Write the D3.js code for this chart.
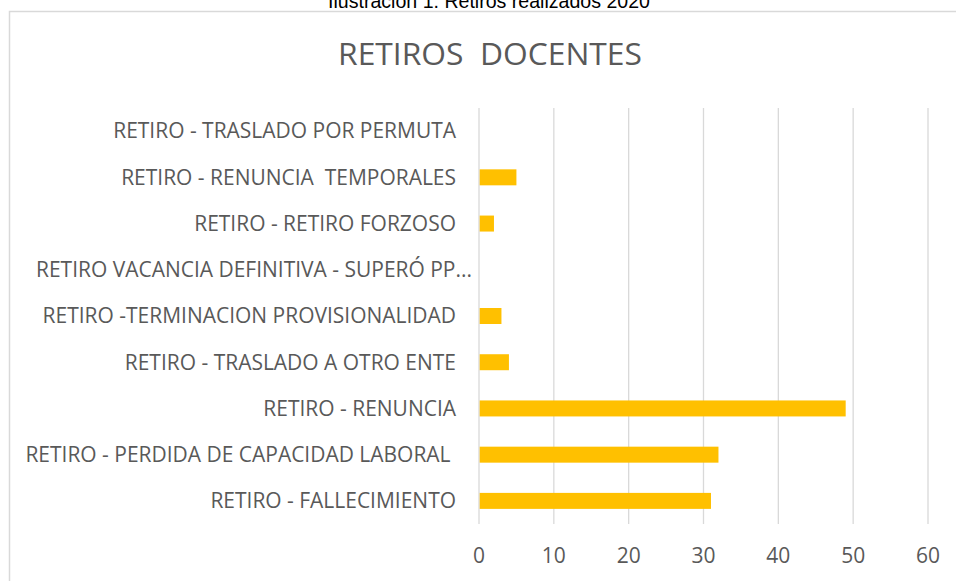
<!DOCTYPE html>
<html>
<head>
<meta charset="utf-8">
<script src="https://cdn.jsdelivr.net/npm/d3@7"></script>
<style>
  html, body { margin: 0; padding: 0; background: #fff; }
  svg { display: block; }
  text { white-space: pre; }
</style>
</head>
<body>
<svg id="chart" width="956" height="581"></svg>
<script>
const caption = "Ilustración 1. Retiros realizados 2020";
const title = "RETIROS  DOCENTES";
const categories = [
  "RETIRO - TRASLADO POR PERMUTA",
  "RETIRO - RENUNCIA  TEMPORALES",
  "RETIRO - RETIRO FORZOSO",
  "RETIRO VACANCIA DEFINITIVA - SUPERÓ PP...",
  "RETIRO -TERMINACION PROVISIONALIDAD",
  "RETIRO - TRASLADO A OTRO ENTE",
  "RETIRO - RENUNCIA",
  "RETIRO - PERDIDA DE CAPACIDAD LABORAL ",
  "RETIRO - FALLECIMIENTO"
];
const values = [0, 5, 2, 0, 3, 4, 49, 32, 31];
const xTicks = [0, 10, 20, 30, 40, 50, 60];

const svg = d3.select("#chart");
const font = "'Open Sans', 'Noto Sans', sans-serif";
const grey = "#595959";

// frame
svg.append("path")
  .attr("d", "M9.5,581 L9.5,11.5 L956,11.5")
  .attr("fill", "none").attr("stroke", "#d9d9d9").attr("stroke-width", 1.5);

// caption (partly cut off at the top, as in the source)
const cap = svg.append("text")
  .attr("x", 489).attr("y", 8)
  .attr("text-anchor", "middle")
  .attr("font-family", "'Liberation Sans', Arial, sans-serif")
  .attr("font-size", 18).attr("fill", "#000")
  .text(caption);
{
  const w = cap.node().getComputedTextLength();
  cap.attr("font-size", 18 * 322 / w);
}

// title
const t = svg.append("text")
  .attr("x", 490).attr("y", 65)
  .attr("text-anchor", "middle")
  .attr("font-family", font)
  .attr("font-size", 30).attr("fill", grey)
  .text(title);
{
  const w = t.node().getComputedTextLength();
  t.attr("font-size", 30 * 304 / w);
}

const x = d3.scaleLinear().domain([0, 60]).range([479, 928]);
const y = d3.scaleBand().domain(categories).range([108, 524])
  .paddingInner(0.654).paddingOuter(0.327);

// gridlines
svg.append("g").selectAll("line").data(xTicks).join("line")
  .attr("x1", d => x(d)).attr("x2", d => x(d))
  .attr("y1", 108).attr("y2", 524)
  .attr("stroke", "#d9d9d9").attr("stroke-width", 1.3);

// bars
svg.append("g").selectAll("rect").data(values).join("rect")
  .attr("x", x(0) + 0.7)
  .attr("y", (d, i) => y(categories[i]))
  .attr("width", d => Math.max(0, x(d) - x(0) - 0.7))
  .attr("height", y.bandwidth())
  .attr("fill", "#FFC000");

// category labels
const labels = svg.append("g").selectAll("text").data(categories).join("text")
  .attr("x", (d, i) => i === 3 ? 472 : 456)
  .attr("y", d => y(d) + y.bandwidth() / 2)
  .attr("dy", "0.35em")
  .attr("text-anchor", "end")
  .attr("font-family", font)
  .attr("font-size", 20)
  .attr("fill", grey)
  .text(d => d);
{
  const ref = labels.filter((d, i) => i === 0).node().getComputedTextLength();
  const fs = 20 * 343 / ref;
  labels.attr("font-size", fs);
}

// x tick labels
svg.append("g").selectAll("text").data(xTicks).join("text")
  .attr("x", d => x(d))
  .attr("y", 563)
  .attr("text-anchor", "middle")
  .attr("font-family", font)
  .attr("font-size", 21)
  .attr("fill", grey)
  .text(d => d);
</script>
</body>
</html>
